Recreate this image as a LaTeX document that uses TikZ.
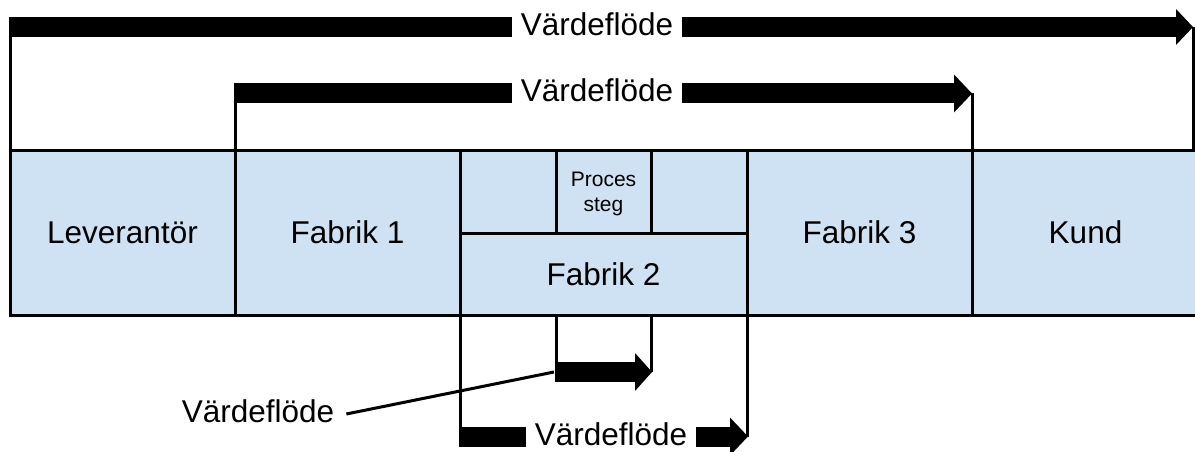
\documentclass[tikz,border=0pt]{standalone}
\usepackage{fontspec}
\setmainfont{Liberation Sans}
\usetikzlibrary{calc}
\definecolor{cellblue}{HTML}{CFE2F3}
\newcommand{\vfbig}{\fontsize{31.5}{36}\selectfont}
\newcommand{\vfsmall}{\fontsize{21}{25}\selectfont}

\begin{document}
\begin{tikzpicture}[x=1pt,y=-1pt,
  cell/.style={draw=black, line width=3pt, fill=cellblue, inner sep=0pt, outer sep=0pt,
    anchor=north west, font=\vfbig, text height=22.5pt, text depth=0pt},
  vlabel/.style={font=\vfbig, inner xsep=9pt, inner ysep=0pt, text height=17pt, text depth=0pt},
  link/.style={line width=3pt},
  flowbar/.style={line width=20pt}
]
\useasboundingbox (0,0) rectangle (1195,452);

% chain of actors
\node[cell, minimum width=225pt, minimum height=165pt] (lev)  at (10,150)  {Leverantör};
\node[cell, minimum width=225pt, minimum height=165pt] (fab1) at (235,150) {Fabrik 1};
\node[cell, minimum width=96pt,  minimum height=83pt]  (ps1)  at (460,150) {};
\node[cell, minimum width=95pt,  minimum height=83pt]  (ps)   at (556,150) {};
\node[cell, minimum width=96pt,  minimum height=83pt]  (ps3)  at (651,150) {};
\node[cell, minimum width=287pt, minimum height=82pt]  (fab2) at (460,233) {Fabrik 2};
\node[cell, minimum width=225pt, minimum height=165pt] (fab3) at (747,150) {Fabrik 3};
\node[cell, minimum width=227pt, minimum height=165pt] (kund) at (972,150) {Kund};
\node[font=\vfsmall, align=center, anchor=north, inner sep=0pt] (psl) at (603.5,171.7) {Proces\\steg};

% value stream labels
\node[vlabel] (v1) at (597,27)   {Värdeflöde};
\node[vlabel] (v2) at (597,93.5) {Värdeflöde};
\node[vlabel, inner xsep=12pt] (v3) at (258,414) {Värdeflöde};
\node[vlabel] (v4) at (611,436.5)  {Värdeflöde};

% whole chain: supplier to customer
\coordinate (tipA) at (1193,27);
\draw[link] (lev.north west) -- (lev.north west |- v1);
\draw[flowbar] ($(lev.north west |- v1)+(-1.5,0)$) -- (v1.west);
\draw[flowbar] (v1.east) -- ($(tipA)+(-17,0)$);
\fill ($(tipA)+(-17,-18)$) -- (tipA) -- ($(tipA)+(-17,18)$) -- cycle;
\draw[link] (tipA) -- (tipA |- kund.north);

% factory 1 to factory 3
\coordinate (tipB) at (972,93.5);
\draw[link] (fab1.north west) -- (fab1.north west |- v2);
\draw[flowbar] ($(fab1.north west |- v2)+(-1.5,0)$) -- (v2.west);
\draw[flowbar] (v2.east) -- ($(tipB)+(-18,0)$);
\fill ($(tipB)+(-18,-19)$) -- (tipB) -- ($(tipB)+(-18,19)$) -- cycle;
\draw[link] (tipB) -- (kund.north west);

% within one process step
\coordinate (tipC) at (652,372);
\coordinate (psL) at (ps.south west |- fab2.south);
\coordinate (psR) at (ps.south east |- fab2.south);
\draw[link] (psL) -- (psL |- tipC);
\draw[flowbar] ($(psL |- tipC)+(-1.5,0)$) -- ($(tipC)+(-17,0)$);
\fill ($(tipC)+(-17,-19)$) -- (tipC) -- ($(tipC)+(-17,19)$) -- cycle;
\draw[link] (psR) -- (psR |- tipC);
\draw[link] (v3.east) -- ($(psL |- tipC)+(-2,0)$);

% within factory 2
\coordinate (tipD) at (748,436.5);
\draw[link] (fab2.south west) -- (fab2.south west |- v4);
\draw[flowbar] ($(fab2.south west |- v4)+(-1.5,0)$) -- (v4.west);
\draw[flowbar] (v4.east) -- ($(tipD)+(-18,0)$);
\fill ($(tipD)+(-18,-19)$) -- (tipD) -- ($(tipD)+(-18,19)$) -- cycle;
\draw[link] (fab2.south east) -- (fab2.south east |- tipD);
\end{tikzpicture}
\end{document}
